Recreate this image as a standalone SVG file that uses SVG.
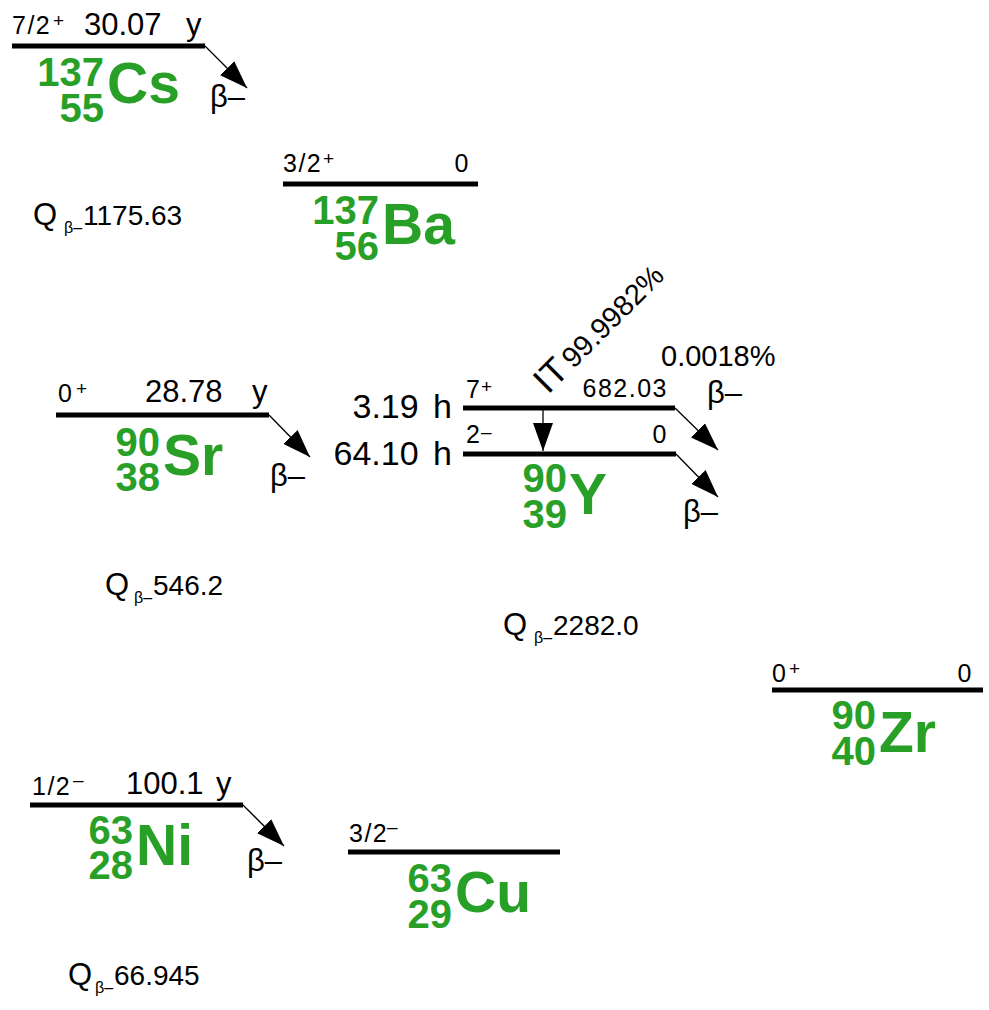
<svg xmlns="http://www.w3.org/2000/svg" width="989" height="1010" viewBox="0 0 989 1010">
<defs>
<style>
text{font-family:"Liberation Sans",Arial,sans-serif;fill:#000}
.lvl{stroke:#000;stroke-width:5;fill:none}
.arr{stroke:#000;stroke-width:1.3;fill:none;marker-end:url(#ah)}
.big{font-size:31px}
.hl{font-size:34px;word-spacing:5px}
.sm{font-size:25px;letter-spacing:1.5px}
.sup{font-size:19px}
.q{font-size:31px}
.qn{font-size:28px}
.qs{font-size:16px}
.num{font-size:40px;font-weight:bold;fill:#28a028;text-anchor:end}
.el{font-size:57px;font-weight:bold;fill:#28a028}
.end{text-anchor:end}
</style>
<marker id="ah" viewBox="0 0 28 20" refX="28" refY="10" markerWidth="28" markerHeight="20" markerUnits="userSpaceOnUse" orient="auto">
<path d="M0,0 L28,10 L0,20 z" fill="#000"/>
</marker>
</defs>
<rect width="989" height="1010" fill="#fff"/>

<g id="connectors">
<line class="arr" x1="205" y1="46" x2="247" y2="88"/>
<line class="arr" x1="269" y1="415" x2="310" y2="457"/>
<line class="arr" x1="675" y1="408" x2="718" y2="450"/>
<line class="arr" x1="676" y1="454" x2="718" y2="497"/>
<line class="arr" x1="243" y1="805" x2="284" y2="846"/>
<line class="arr" x1="543" y1="410" x2="543" y2="451"/>
</g>

<g id="cs137">
<line class="lvl" x1="12" y1="46" x2="205" y2="46"/>
<text class="sm" x="12" y="34">7/2</text>
<text class="sup" x="53" y="27">+</text>
<text class="big" x="84" y="35">30.07</text>
<text class="big" x="186" y="35">y</text>
<text class="num" x="104" y="86">137</text>
<text class="num" x="104" y="122">55</text>
<text class="el" x="107" y="103">Cs</text>
<text class="big" x="210" y="107">β–</text>
<text class="q" x="33" y="225">Q</text>
<text class="qs" x="64" y="233">β–</text>
<text class="qn" x="83" y="225">1175.63</text>
</g>

<g id="ba137">
<line class="lvl" x1="283" y1="184" x2="478" y2="184"/>
<text class="sm" x="283" y="172">3/2</text>
<text class="sup" x="323" y="165">+</text>
<text class="sm end" x="470" y="172">0</text>
<text class="num" x="379" y="224">137</text>
<text class="num" x="379" y="260">56</text>
<text class="el" x="382" y="244">Ba</text>
</g>

<g id="sr90">
<line class="lvl" x1="56" y1="415" x2="269" y2="415"/>
<text class="sm" x="58" y="402">0</text>
<text class="sup" x="76" y="395">+</text>
<text class="big" x="145" y="402">28.78</text>
<text class="big" x="252" y="402">y</text>
<text class="num" x="160" y="456">90</text>
<text class="num" x="160" y="491">38</text>
<text class="el" x="163" y="475">Sr</text>
<text class="big" x="270" y="486">β–</text>
<text class="q" x="105" y="595">Q</text>
<text class="qs" x="134" y="603">β–</text>
<text class="qn" x="153" y="595">546.2</text>
</g>

<g id="y90">
<line class="lvl" x1="463" y1="408" x2="675" y2="408"/>
<line class="lvl" x1="463" y1="454" x2="676" y2="454"/>
<text class="hl end" x="452" y="418">3.19 h</text>
<text class="hl end" x="452" y="465">64.10 h</text>
<text class="sm" x="466" y="398">7</text>
<text class="sup" x="481" y="393">+</text>
<text class="sm end" x="668" y="397">682.03</text>
<text class="sm" x="466" y="443">2</text>
<text class="sup" x="481" y="438">–</text>
<text class="sm end" x="668" y="443">0</text>
<text transform="translate(548,395) rotate(-45)"><tspan style="font-size:36px">IT</tspan><tspan dx="4" style="font-size:29px">99.9982%</tspan></text>
<text style="font-size:29px" x="661" y="366">0.0018%</text>
<text class="big" x="707" y="403">β–</text>
<text class="big" x="683" y="522">β–</text>
<text class="num" x="567" y="492">90</text>
<text class="num" x="567" y="528">39</text>
<text class="el" x="569" y="514">Y</text>
<text class="q" x="503" y="635">Q</text>
<text class="qs" x="534" y="643">β–</text>
<text class="qn" x="553" y="635">2282.0</text>
</g>

<g id="zr90">
<line class="lvl" x1="772" y1="690" x2="983" y2="690"/>
<text class="sm" x="772" y="682">0</text>
<text class="sup" x="789" y="675">+</text>
<text class="sm end" x="973" y="682">0</text>
<text class="num" x="876" y="729">90</text>
<text class="num" x="876" y="765">40</text>
<text class="el" x="879" y="752">Zr</text>
</g>

<g id="ni63">
<line class="lvl" x1="30" y1="805" x2="243" y2="805"/>
<text class="sm" x="32" y="795">1/2</text>
<text class="sup" x="73" y="786">–</text>
<text class="big" x="126" y="794">100.1</text>
<text class="big" x="216" y="794">y</text>
<text class="num" x="133" y="844">63</text>
<text class="num" x="133" y="879">28</text>
<text class="el" x="136" y="865">Ni</text>
<text class="big" x="247" y="871">β–</text>
<text class="q" x="68" y="985">Q</text>
<text class="qs" x="95" y="993">β–</text>
<text class="qn" x="114" y="985">66.945</text>
</g>

<g id="cu63">
<line class="lvl" x1="348" y1="852" x2="560" y2="852"/>
<text class="sm" x="349" y="842">3/2</text>
<text class="sup" x="387" y="833">–</text>
<text class="num" x="452" y="892">63</text>
<text class="num" x="452" y="928">29</text>
<text class="el" x="455" y="912">Cu</text>
</g>
</svg>
